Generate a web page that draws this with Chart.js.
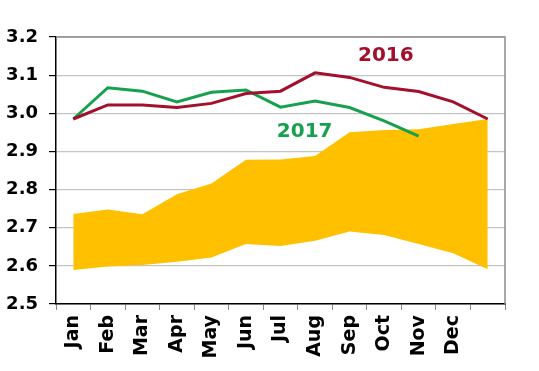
<!DOCTYPE html>
<html>
<head>
<meta charset="utf-8">
<script src="https://cdn.jsdelivr.net/npm/chart.js@4"></script>
<style>
  html, body { margin: 0; padding: 0; background: #fff; }
  #wrap { width: 539px; height: 371px; }
</style>
</head>
<body>
<div id="wrap"><canvas id="chart"></canvas></div>
<script>
// 13 slots: Jan..Dec plus an unlabeled end point
const months = ["Jan","Feb","Mar","Apr","May","Jun","Jul","Aug","Sep","Oct","Nov","Dec",""];
const line2016 = [2.985,3.022,3.022,3.015,3.026,3.052,3.058,3.106,3.094,3.068,3.057,3.030,2.985];
const line2017 = [2.985,3.067,3.058,3.030,3.055,3.061,3.016,3.032,3.015,2.980,2.940,null,null];
const bandHigh = [2.736,2.748,2.735,2.788,2.816,2.878,2.879,2.888,2.950,2.956,2.958,2.972,2.985];
const bandLow  = [2.589,2.598,2.602,2.611,2.622,2.657,2.652,2.666,2.690,2.681,2.657,2.633,2.591];
const yTicks = [2.5,2.6,2.7,2.8,2.9,3.0,3.1,3.2];

const RED = "#a3102c";
const GREEN = "#17a04e";
const GOLD = "#ffc000";
const FONT = "'DejaVu Sans', sans-serif";

// series labels "2016" / "2017" placed in data space
const seriesLabels = {
  id: "seriesLabels",
  afterDatasetsDraw(chart) {
    const { ctx, scales: { x, y } } = chart;
    ctx.save();
    ctx.font = "bold 20px " + FONT;
    ctx.textAlign = "center";
    ctx.textBaseline = "middle";
    ctx.fillStyle = RED;
    ctx.fillText("2016", x.getPixelForValue(9.05), y.getPixelForValue(3.151));
    ctx.fillStyle = GREEN;
    ctx.fillText("2017", x.getPixelForValue(6.7), y.getPixelForValue(2.952));
    ctx.restore();
  }
};

// grey frame on top and right
const frame = {
  id: "frame",
  beforeDatasetsDraw(chart) {
    const { ctx, chartArea: a } = chart;
    ctx.save();
    ctx.strokeStyle = "#8c8c8c";
    ctx.lineWidth = 1.5;
    ctx.beginPath();
    ctx.moveTo(a.left, a.top);
    ctx.lineTo(a.right, a.top);
    ctx.lineTo(a.right, a.bottom);
    ctx.stroke();
    ctx.restore();
  }
};

new Chart(document.getElementById("chart"), {
  type: "line",
  data: {
    labels: months,
    datasets: [
      {
        label: "low",
        data: bandLow,
        borderWidth: 0,
        pointRadius: 0,
        fill: false,
        order: 3
      },
      {
        label: "band",
        data: bandHigh,
        borderWidth: 0,
        pointRadius: 0,
        backgroundColor: GOLD,
        fill: "-1",
        order: 3
      },
      {
        label: "2016",
        data: line2016,
        borderColor: RED,
        borderWidth: 3,
        pointRadius: 0,
        fill: false,
        order: 1
      },
      {
        label: "2017",
        data: line2017,
        borderColor: GREEN,
        borderWidth: 3,
        pointRadius: 0,
        fill: false,
        order: 2
      }
    ]
  },
  options: {
    responsive: true,
    maintainAspectRatio: false,
    animation: false,
    layout: { padding: { top: 37, right: 34, left: 0, bottom: 0 } },
    plugins: {
      legend: { display: false },
      tooltip: { enabled: false }
    },
    scales: {
      x: {
        offset: true,
        grid: {
          offset: true,
          drawOnChartArea: false,
          drawTicks: true,
          tickLength: 6,
          color: "#888"
        },
        border: { color: "#000", width: 1.5 },
        ticks: {
          autoSkip: false,
          minRotation: 90,
          maxRotation: 90,
          padding: 5,
          color: "#000",
          font: { family: FONT, size: 19, weight: "bold" }
        },
        afterFit(s) { s.height = 67; }
      },
      y: {
        min: 2.5,
        max: 3.2,
        afterBuildTicks(s) { s.ticks = yTicks.map(v => ({ value: v })); },
        grid: {
          color: "#c4c4c4",
          lineWidth: 1.2,
          tickLength: 7,
          tickColor: "#000"
        },
        border: { color: "#000", width: 1.5 },
        ticks: {
          padding: 11,
          color: "#000",
          font: { family: FONT, size: 18, weight: "bold" },
          callback: v => v.toFixed(1)
        },
        afterFit(s) { s.width = 56; }
      }
    }
  },
  plugins: [frame, seriesLabels]
});
</script>
</body>
</html>
